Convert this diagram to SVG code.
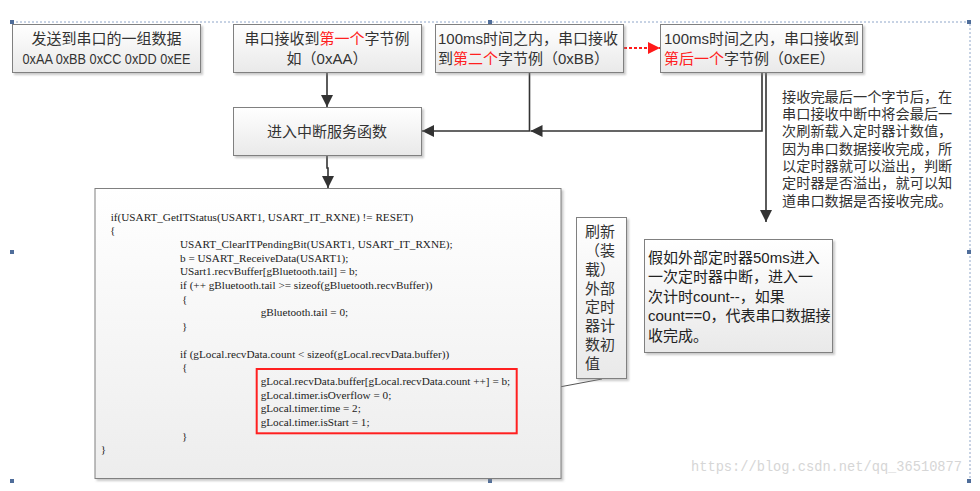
<svg xmlns="http://www.w3.org/2000/svg" width="980" height="491" viewBox="0 0 980 491">
<style>
.box{stroke:#808080;stroke-width:1;fill:url(#g1);filter:url(#sh)}
.code{stroke:#808080;stroke-width:1;fill:url(#g2);filter:url(#sh)}
.t{font-family:"Liberation Sans","Noto Sans CJK SC",sans-serif;font-size:15px;fill:#333}
.tc{font-family:"Liberation Sans","Noto Sans CJK SC",sans-serif;font-size:14.2px;fill:#333}
.red{fill:#ff2020}
.cd{font-family:"Liberation Serif",serif;font-size:11.2px;fill:#222}
.ln{fill:none;stroke:#333;stroke-width:1.6}
.hd{fill:#4f6d9a}
.sel{fill:none;stroke:#8fa6c9;stroke-width:1;stroke-dasharray:2 2}
</style>
<defs>
<linearGradient id="g1" x1="0" y1="0" x2="0" y2="1"><stop offset="0" stop-color="#ffffff"/><stop offset="1" stop-color="#e9e9e9"/></linearGradient>
<linearGradient id="g2" x1="0" y1="0" x2="0" y2="1"><stop offset="0" stop-color="#ffffff"/><stop offset="1" stop-color="#ededed"/></linearGradient>
<filter id="sh" x="-5%" y="-5%" width="115%" height="120%"><feDropShadow dx="2" dy="2" stdDeviation="1.2" flood-color="#888" flood-opacity="0.45"/></filter>
<marker id="ah" viewBox="0 0 12 12" markerUnits="userSpaceOnUse" markerWidth="12" markerHeight="12" refX="12" refY="6" orient="auto"><path d="M0,0 L12,6 L0,12 z" fill="#333"/></marker>
<marker id="ahr" viewBox="0 0 12 12" markerUnits="userSpaceOnUse" markerWidth="12" markerHeight="12" refX="12" refY="6" orient="auto"><path d="M0,0 L12,6 L0,12 z" fill="#ff1a1a"/></marker>
</defs>
<rect width="980" height="491" fill="#ffffff"/>

<g id="selection">
<path class="sel" d="M12,22 H970 V481"/>
<rect class="hd" x="10" y="20" width="4" height="4"/>
<rect class="hd" x="488" y="20" width="4" height="4"/>
<rect class="hd" x="967" y="20" width="4" height="4"/>
<rect class="hd" x="10" y="250" width="4" height="4"/>
<rect class="hd" x="967" y="250" width="4" height="4"/>
<rect class="hd" x="10" y="479" width="4" height="4"/>
<rect class="hd" x="488" y="479" width="4" height="4"/>
<rect class="hd" x="967" y="479" width="4" height="4"/>
</g>

<g id="connectors">
<path class="ln" d="M327,72 V107" marker-end="url(#ah)"/>
<path class="ln" d="M762,72 V131 H530.5" marker-end="url(#ah)"/>
<path class="ln" d="M529.5,72 V131 H422" marker-end="url(#ah)"/>
<path class="ln" d="M766,72 V222" marker-end="url(#ah)"/>
<path class="ln" d="M327,155 V168 H328 V188" marker-end="url(#ah)"/>
<path d="M624,48 H660" fill="none" stroke="#ff1a1a" stroke-width="2" stroke-dasharray="3 2" marker-end="url(#ahr)"/>
<path d="M490,400 L602,379" fill="none" stroke="#555" stroke-width="1"/>
</g>

<g id="n-send">
<rect class="box" x="12.5" y="24.5" width="188" height="48"/>
<text class="t" x="106.5" y="44" text-anchor="middle">发送到串口的一组数据</text>
<text class="t" x="106.5" y="63.5" text-anchor="middle" textLength="168" lengthAdjust="spacingAndGlyphs">0xAA 0xBB 0xCC 0xDD 0xEE</text>
</g>

<g id="n-first">
<rect class="box" x="233.5" y="24.5" width="188" height="48"/>
<text class="t" x="327" y="44" text-anchor="middle">串口接收到<tspan class="red">第一个</tspan>字节例</text>
<text class="t" x="327" y="63.5" text-anchor="middle">如（0xAA）</text>
</g>

<g id="n-second">
<rect class="box" x="435.5" y="24.5" width="188" height="48"/>
<text class="t" x="438" y="44">100ms时间之内，串口接收</text>
<text class="t" x="438" y="63.5">到<tspan class="red">第二个</tspan>字节例（0xBB）</text>
</g>

<g id="n-last">
<rect class="box" x="660.5" y="24.5" width="202" height="48"/>
<text class="t" x="664" y="44">100ms时间之内，串口接收到</text>
<text class="t" x="664" y="63.5"><tspan class="red">第后一个</tspan>字节例（0xEE）</text>
</g>

<g id="n-isr">
<rect class="box" x="233.5" y="107.5" width="188" height="48"/>
<text class="t" x="327" y="136.5" text-anchor="middle">进入中断服务函数</text>
</g>

<g id="n-note">
<text class="tc" x="782" y="101.7">接收完最后一个字节后，在</text>
<text class="tc" x="782" y="119">串口接收中断中将会最后一</text>
<text class="tc" x="782" y="136.3">次刷新载入定时器计数值，</text>
<text class="tc" x="782" y="153.6">因为串口数据接收完成，所</text>
<text class="tc" x="782" y="170.9">以定时器就可以溢出，判断</text>
<text class="tc" x="782" y="188.2">定时器是否溢出，就可以知</text>
<text class="tc" x="782" y="205.5">道串口数据是否接收完成。</text>
</g>

<g id="n-code">
<rect class="code" x="95" y="188.5" width="466" height="290"/>
<text class="cd" x="110.7" y="220.5">if(USART_GetITStatus(USART1, USART_IT_RXNE) != RESET)</text>
<text class="cd" x="110" y="234.2">{</text>
<text class="cd" x="180" y="247.9">USART_ClearITPendingBit(USART1, USART_IT_RXNE);</text>
<text class="cd" x="180" y="261.6">b = USART_ReceiveData(USART1);</text>
<text class="cd" x="180" y="275.3">USart1.recvBuffer[gBluetooth.tail] = b;</text>
<text class="cd" x="180" y="289">if (++ gBluetooth.tail &gt;= sizeof(gBluetooth.recvBuffer))</text>
<text class="cd" x="182" y="302.7">{</text>
<text class="cd" x="260.7" y="316.4">gBluetooth.tail = 0;</text>
<text class="cd" x="182" y="330.1">}</text>
<text class="cd" x="180" y="357.5">if (gLocal.recvData.count &lt; sizeof(gLocal.recvData.buffer))</text>
<text class="cd" x="182" y="371.2">{</text>
<text class="cd" x="260.7" y="384.9">gLocal.recvData.buffer[gLocal.recvData.count ++] = b;</text>
<text class="cd" x="260.7" y="398.6">gLocal.timer.isOverflow = 0;</text>
<text class="cd" x="260.7" y="412.3">gLocal.timer.time = 2;</text>
<text class="cd" x="260.7" y="426">gLocal.timer.isStart = 1;</text>
<text class="cd" x="182" y="439.7">}</text>
<text class="cd" x="100.7" y="453.4">}</text>
<rect x="256.7" y="369" width="260" height="64.3" fill="none" stroke="#ff2020" stroke-width="2"/>
</g>

<g id="n-reload">
<rect class="box" x="576.5" y="217.5" width="50" height="161"/>
<text class="t" x="585" y="237.2">刷新</text>
<text class="t" x="585" y="256">（装</text>
<text class="t" x="585" y="274.8">载）</text>
<text class="t" x="585" y="293.6">外部</text>
<text class="t" x="585" y="312.4">定时</text>
<text class="t" x="585" y="331.2">器计</text>
<text class="t" x="585" y="350">数初</text>
<text class="t" x="585" y="368.8">值</text>
</g>

<g id="n-timer">
<rect class="box" x="644.5" y="239.5" width="188" height="113"/>
<text class="t" x="648" y="262.5" style="fill:#222">假如外部定时器50ms进入</text>
<text class="t" x="648" y="282" style="fill:#222">一次定时器中断，进入一</text>
<text class="t" x="648" y="301.5" style="fill:#222">次计时count--，如果</text>
<text class="t" x="648" y="321" style="fill:#222">count==0，代表串口数据接</text>
<text class="t" x="648" y="340.5" style="fill:#222">收完成。</text>
</g>

<text x="691" y="471" font-family="'Liberation Mono',monospace" font-size="14" fill="#d6d6d6" textLength="271" lengthAdjust="spacingAndGlyphs">https://blog.csdn.net/qq_36510877</text>
</svg>
